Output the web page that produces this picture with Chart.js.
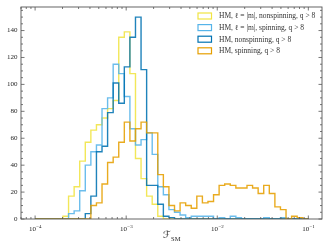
<!DOCTYPE html>
<html>
<head>
<meta charset="utf-8">
<script src="https://cdn.jsdelivr.net/npm/chart.js@4.4.1/dist/chart.umd.min.js"></script>
<style>
  html, body { margin: 0; padding: 0; background: #fff; }
  #wrap { width: 332px; height: 249px; }
</style>
</head>
<body>
<div id="wrap"><canvas id="hist"></canvas></div>
<script>
// histogram bins: np.logspace(-4, -1, 50) -> 49 bins
const binEdges = Array.from({ length: 50 }, (_, k) => Math.pow(10, -4 + 3 * k / 49));

const seriesLabels = [
  'HM, \u2113 = |m|, nonspinning, q > 8',
  'HM, \u2113 = |m|, spinning, q > 8',
  'HM, nonspinning, q > 8',
  'HM, spinning, q > 8'
];
const seriesColors = ['#F0E442', '#56B4E9', '#0072B2', '#E69F00'];

// counts per bin (49 bins)
const countsLmNonspin = [0,0,0,0,0, 2,17,24,43,57, 66,70,75,82,88, 135,139,108,45,30, 17,11,2,0,0, 0,0,0,0,0, 0,0,0,0,0, 0,0,0,0,0, 0,0,0,0,0, 0,0,0,0];
const countsLmSpin    = [0,0,0,0,0, 0,4,6,21,40, 50,55,82,90,115, 108,91,67,55,59, 64,48,24,18,7, 5,3,1,2,2, 2,2,0,1,0, 2,1,0,0,0, 0,1,0,0,1, 0,0,0,0];
const countsNonspin   = [0,0,0,0,0, 0,0,0,0,4, 17,50,54,79,101, 86,113,135,150,111, 25,25,11,2,1, 0,0,0,0,0, 0,0,0,0,0, 0,0,0,0,0, 0,0,0,0,0, 0,0,0,0];
const countsSpin      = [0,0,0,0,0, 0,0,0,0,0, 10,12,26,42,46, 57,72,58,67,72, 64,64,33,24,10, 6,12,10,8,17, 12,13,18,25,26, 25,23,23,25,23, 19,25,19,9,7, 0,2,1,0];

const allCounts = [countsLmNonspin, countsLmSpin, countsNonspin, countsSpin];

const yTicks = [0, 20, 40, 60, 80, 100, 120, 140];
const xDecades = [-4, -3, -2, -1];

function stepPoints(counts) {
  const pts = [{ x: binEdges[0], y: 0 }];
  counts.forEach((c, k) => pts.push({ x: binEdges[k], y: c }));
  pts.push({ x: binEdges[binEdges.length - 1], y: 0 });
  return pts;
}

const datasets = allCounts.map((counts, i) => ({
  label: seriesLabels[i],
  data: stepPoints(counts),
  stepped: 'before',
  borderColor: seriesColors[i] + 'E0',
  borderWidth: 1.4,
  pointRadius: 0,
  fill: false,
  order: 4 - i
}));

const SERIF = '"Liberation Serif", "DejaVu Serif", serif';

const frame = {
  id: 'frame',
  afterDraw(chart) {
    const { ctx, chartArea: a, scales } = chart;
    const xs = scales.x, ys = scales.y;
    ctx.save();
    ctx.strokeStyle = '#555';
    ctx.lineWidth = 0.9;
    ctx.strokeRect(a.left, a.top, a.right - a.left, a.bottom - a.top);

    const tick = (x1, y1, x2, y2) => { ctx.beginPath(); ctx.moveTo(x1, y1); ctx.lineTo(x2, y2); ctx.stroke(); };
    ctx.lineWidth = 0.8;
    // y ticks
    for (let v = 0; v <= 155; v += 5) {
      const y = ys.getPixelForValue(v);
      const len = v % 20 === 0 ? 3.5 : 2;
      tick(a.left, y, a.left + len, y);
      tick(a.right, y, a.right - len, y);
    }
    // x ticks
    const lo = xs.min, hi = xs.max;
    for (let d = -5; d <= 0; d++) {
      for (let m = 1; m <= 9; m++) {
        const v = m * Math.pow(10, d);
        if (v < lo || v > hi) continue;
        const x = xs.getPixelForValue(v);
        const len = m === 1 ? 3.5 : 2;
        tick(x, a.bottom, x, a.bottom - len);
        tick(x, a.top, x, a.top + len);
      }
    }

    ctx.fillStyle = '#222';
    ctx.font = '7px ' + SERIF;
    ctx.textAlign = 'right';
    ctx.textBaseline = 'middle';
    yTicks.forEach(v => ctx.fillText(String(v), a.left - 3.5, ys.getPixelForValue(v)));

    xDecades.forEach(d => {
      const x = xs.getPixelForValue(Math.pow(10, d));
      ctx.font = '7px ' + SERIF;
      const base = '10';
      const wb = ctx.measureText(base).width;
      ctx.font = '5px ' + SERIF;
      const exp = '\u2212' + Math.abs(d);
      const we = ctx.measureText(exp).width;
      const x0 = x - (wb + we) / 2;
      ctx.textAlign = 'left';
      ctx.textBaseline = 'alphabetic';
      ctx.font = '7px ' + SERIF;
      ctx.fillText(base, x0, a.bottom + 12);
      ctx.font = '5px ' + SERIF;
      ctx.fillText(exp, x0 + wb + 0.3, a.bottom + 9);
    });

    // axis title
    ctx.font = '10px "DejaVu Sans", serif';
    const wF = ctx.measureText('\u2131').width;
    ctx.font = '6.5px ' + SERIF;
    const wS = ctx.measureText('SM').width;
    const cx = (a.left + a.right) / 2;
    const tx = cx - (wF + wS) / 2;
    ctx.font = '10px "DejaVu Sans", serif';
    ctx.fillText('\u2131', tx, 238);
    ctx.font = '6.5px ' + SERIF;
    ctx.fillText('SM', tx + wF + 0.3, 240.5);

    // legend
    ctx.font = '7.5px ' + SERIF;
    ctx.textBaseline = 'middle';
    seriesLabels.forEach((lab, i) => {
      const y = 16 + i * 11.6;
      ctx.strokeStyle = seriesColors[i];
      ctx.lineWidth = 1.2;
      ctx.strokeRect(198, y - 3, 13.5, 6);
      ctx.fillStyle = '#333';
      ctx.fillText(lab, 219, y + 0.5);
    });
    ctx.restore();
  }
};

new Chart(document.getElementById('hist'), {
  type: 'line',
  data: { datasets },
  options: {
    responsive: true,
    maintainAspectRatio: false,
    animation: false,
    layout: { padding: { left: 21, right: 10, top: 7, bottom: 30 } },
    plugins: { legend: { display: false }, tooltip: { enabled: false } },
    scales: {
      x: { type: 'logarithmic', min: Math.pow(10, -4.15), max: Math.pow(10, -0.85), display: false },
      y: { type: 'linear', min: 0, max: 157.5, display: false }
    }
  },
  plugins: [frame]
});
</script>
</body>
</html>
